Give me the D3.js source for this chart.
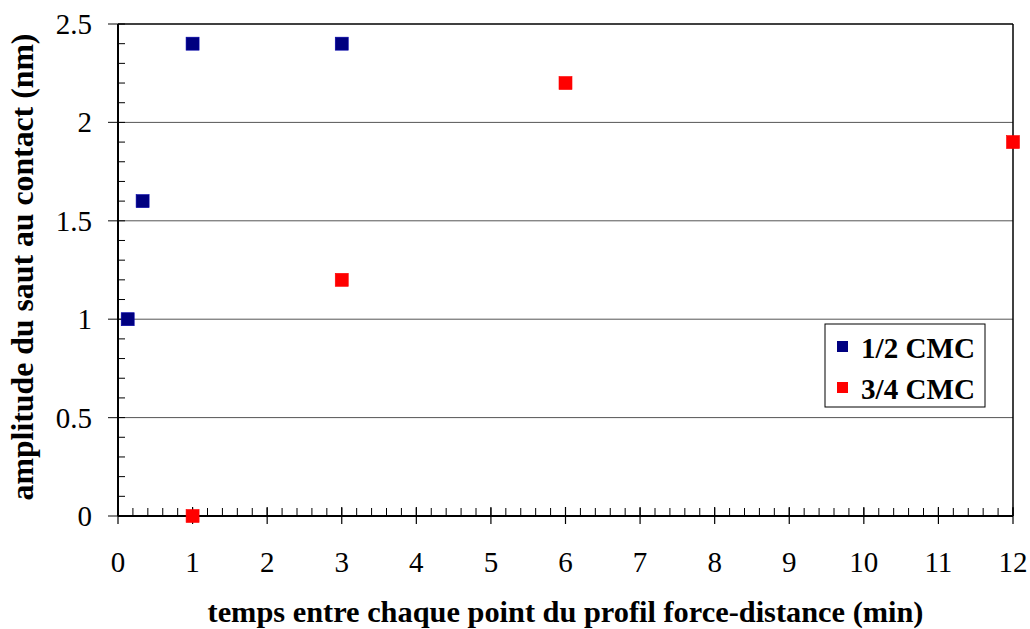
<!DOCTYPE html>
<html><head><meta charset="utf-8">
<script src="https://cdn.jsdelivr.net/npm/d3@7"></script>
<style>body{margin:0;background:#fff}</style>
</head><body>
<svg id="c" width="1030" height="629"></svg>
<script>
const seriesNames = ["1/2 CMC", "3/4 CMC"];
const seriesColors = ["#000080", "#ff0000"];
const halfX = [0.13, 0.33, 1, 3];
const halfY = [1.0, 1.6, 2.4, 2.4];
const threeQX = [1, 3, 6, 12];
const threeQY = [0, 1.2, 2.2, 1.9];
const xTicks = [0,1,2,3,4,5,6,7,8,9,10,11,12];
const yTicks = [0,0.5,1,1.5,2,2.5];
const xTitle = "temps entre chaque point du profil force-distance (min)";
const yTitle = "amplitude du saut au contact (nm)";

const svg = d3.select("#c");
const L=118, R=1013, T=24, B=516;
const x = d3.scaleLinear().domain([0,12]).range([L,R]);
const y = d3.scaleLinear().domain([0,2.5]).range([B,T]);
const font = "'Liberation Serif','Times New Roman',serif";

function fit(sel, target, base){
  const w = sel.node().getComputedTextLength();
  if (w>0) sel.attr("font-size", base*target/w);
}

// gridlines
svg.append("g").selectAll("line").data(yTicks.filter(v=>v>0&&v<2.5)).join("line")
  .attr("x1",L).attr("x2",R).attr("y1",d=>y(d)).attr("y2",d=>y(d))
  .attr("stroke","#555").attr("stroke-width",1);
// plot border top and right
svg.append("line").attr("x1",L).attr("x2",R).attr("y1",T).attr("y2",T).attr("stroke","#000").attr("stroke-width",1.5);
svg.append("line").attr("x1",R).attr("x2",R).attr("y1",T).attr("y2",B).attr("stroke","#000").attr("stroke-width",1.5);

// y axis
const yMinor = d3.range(0,2.5001,0.1);
svg.append("g").selectAll("line").data(yMinor).join("line")
  .attr("x1",L).attr("x2",L+7).attr("y1",d=>y(d)).attr("y2",d=>y(d)).attr("stroke","#000").attr("stroke-width",1);
svg.append("g").selectAll("line").data(yTicks).join("line")
  .attr("x1",L-10).attr("x2",L).attr("y1",d=>y(d)).attr("y2",d=>y(d)).attr("stroke","#333").attr("stroke-width",1.2);
svg.append("line").attr("x1",L).attr("x2",L).attr("y1",T).attr("y2",B).attr("stroke","#000").attr("stroke-width",2);
svg.append("g").selectAll("text").data(yTicks).join("text")
  .attr("x",92).attr("y",d=>y(d)+10).attr("text-anchor","end")
  .attr("font-family",font).attr("font-size",29).text(d=>d);

// x axis
const xMinor = d3.range(0,12.0001,0.2);
svg.append("g").selectAll("line").data(xMinor).join("line")
  .attr("x1",d=>x(d)).attr("x2",d=>x(d)).attr("y1",B-8).attr("y2",B).attr("stroke","#000").attr("stroke-width",1);
svg.append("g").selectAll("line").data(xTicks).join("line")
  .attr("x1",d=>x(d)).attr("x2",d=>x(d)).attr("y1",B-9).attr("y2",B+8).attr("stroke","#000").attr("stroke-width",1.2);
svg.append("line").attr("x1",L).attr("x2",R).attr("y1",B).attr("y2",B).attr("stroke","#000").attr("stroke-width",2);
svg.append("g").selectAll("text").data(xTicks).join("text")
  .attr("x",d=>x(d)).attr("y",572).attr("text-anchor","middle")
  .attr("font-family",font).attr("font-size",29).text(d=>d);

// titles
const xt = svg.append("text").attr("x",(L+R)/2).attr("y",622).attr("text-anchor","middle")
  .attr("font-family",font).attr("font-size",28).attr("font-weight","bold").text(xTitle);
fit(xt, 716, 28);
const yt = svg.append("text").attr("transform",`translate(33,267) rotate(-90)`).attr("text-anchor","middle")
  .attr("font-family",font).attr("font-size",28).attr("font-weight","bold").text(yTitle);
fit(yt, 467, 28);

// points
const series = [d3.zip(halfX,halfY), d3.zip(threeQX,threeQY)];
const s = 13;
series.forEach((pts,i)=>{
  svg.append("g").selectAll("rect").data(pts).join("rect")
    .attr("x",d=>x(d[0])-s/2).attr("y",d=>y(d[1])-s/2).attr("width",s).attr("height",s)
    .attr("fill",seriesColors[i]).attr("stroke",d3.color(seriesColors[i]).brighter(0.8)).attr("stroke-width",0.6);
});

// legend
const lg = svg.append("g");
lg.append("rect").attr("x",825).attr("y",324).attr("width",160).attr("height",83)
  .attr("fill","#fff").attr("stroke","#000").attr("stroke-width",1);
seriesNames.forEach((n,i)=>{
  const cy = 346.5 + i*41;
  lg.append("rect").attr("x",837).attr("y",cy-5.5).attr("width",11).attr("height",11).attr("fill",seriesColors[i]);
  const t = lg.append("text").attr("x",861).attr("y",cy+11).attr("font-family",font).attr("font-size",29)
    .attr("font-weight","bold").text(n);
  fit(t, 114, 29);
});
</script>
</body></html>
